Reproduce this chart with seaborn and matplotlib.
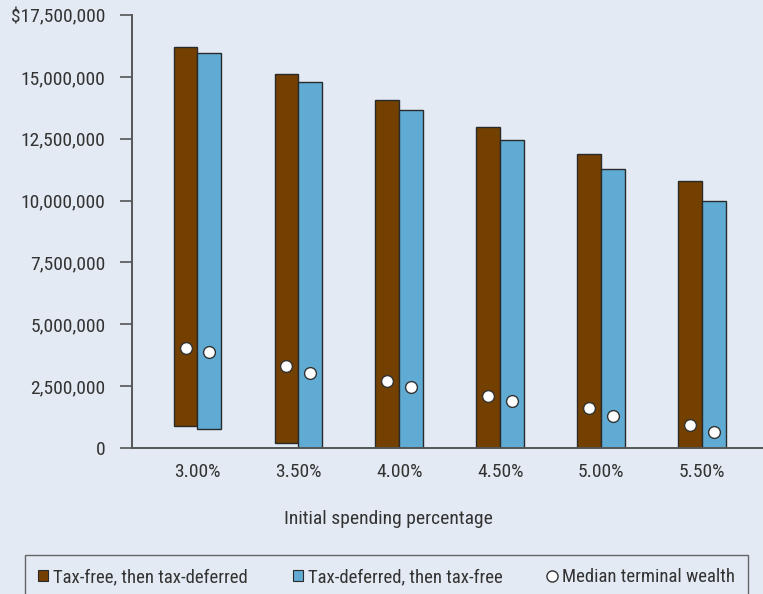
import matplotlib
matplotlib.use("Agg")
import matplotlib.pyplot as plt
from matplotlib.patches import Patch
from matplotlib.lines import Line2D
import pandas as pd
import seaborn as sns

# Initial spending rates (categories)
categories = ["3.00%", "3.50%", "4.00%", "4.50%", "5.00%", "5.50%"]
strategies = ["Tax-free, then tax-deferred", "Tax-deferred, then tax-free"]

# Terminal wealth ranges ($) for each withdrawal ordering
tf_td_high = [16_230_000, 15_120_000, 14_080_000, 12_990_000, 11_880_000, 10_790_000]
tf_td_low = [860_000, 190_000, 0, 0, 0, 0]
td_tf_high = [15_960_000, 14_800_000, 13_660_000, 12_470_000, 11_260_000, 10_000_000]
td_tf_low = [760_000, 0, 0, 0, 0, 0]

# Median terminal wealth ($)
tf_td_median = [4_020_000, 3_320_000, 2_690_000, 2_110_000, 1_610_000, 930_000]
td_tf_median = [3_890_000, 3_010_000, 2_440_000, 1_880_000, 1_300_000, 650_000]

y_ticks = [0, 2_500_000, 5_000_000, 7_500_000, 10_000_000, 12_500_000, 15_000_000, 17_500_000]
y_tick_labels = ["0", "2,500,000", "5,000,000", "7,500,000", "10,000,000",
                 "12,500,000", "15,000,000", "$17,500,000"]

BG = "#e3eaf3"
BROWN = "#744000"
BLUE = "#60abd3"
INK = "#333333"

rows = []
for s, hi, lo, med in [(strategies[0], tf_td_high, tf_td_low, tf_td_median),
                       (strategies[1], td_tf_high, td_tf_low, td_tf_median)]:
    for c, h, l, m in zip(categories, hi, lo, med):
        rows.append({"rate": c, "strategy": s, "high": h, "low": l,
                     "span": h - l, "median": m})
df = pd.DataFrame(rows)

sns.set_theme(style="white")
plt.rcParams["font.family"] = ["Roboto Condensed", "DejaVu Sans"]
plt.rcParams["text.color"] = INK

fig = plt.figure(figsize=(7.63, 5.94), dpi=100, facecolor=BG)
ax = fig.add_axes([132 / 763, 1 - 447.7 / 594, 1 - 132 / 763, (447.7 - 15.3) / 594])
ax.set_facecolor(BG)

palette = {strategies[0]: BROWN, strategies[1]: BLUE}
sns.barplot(data=df, x="rate", y="span", hue="strategy", hue_order=strategies,
            order=categories, palette=palette, width=0.47, dodge=True,
            errorbar=None, saturation=1, edgecolor="#2a2a2a", linewidth=1.0,
            legend=False, ax=ax)

# Float each bar so it spans low..high
for container, lows in zip(ax.containers, [tf_td_low, td_tf_low]):
    for patch, lo in zip(container, lows):
        patch.set_y(lo)

sns.pointplot(data=df, x="rate", y="median", hue="strategy", hue_order=strategies,
              order=categories, palette={s: "white" for s in strategies},
              dodge=0.235, linestyle="none", markers="o", errorbar=None,
              markersize=8.5, markeredgewidth=1.0, legend=False, ax=ax)
for line in ax.lines:
    line.set_markeredgecolor(INK)
    line.set_zorder(5)

ax.set_xlim(-0.648, 5.605)
ax.set_ylim(0, 17_500_000)
ax.set_yticks(y_ticks)
ax.set_yticklabels(y_tick_labels)
ax.tick_params(axis="y", which="major", direction="out", length=8.5, width=1.2,
               color="#555555", labelsize=14, labelcolor=INK, pad=10.5, left=True)
ax.tick_params(axis="x", length=0, labelsize=14, labelcolor=INK, pad=11)
ax.set_xlabel("Initial spending percentage", fontsize=14, color=INK)
ax.xaxis.set_label_coords((388 - 132) / 631, -62 / 432.4)
ax.set_ylabel("")

for side in ["top", "right"]:
    ax.spines[side].set_visible(False)
for side in ["left", "bottom"]:
    ax.spines[side].set_color("#555555")
    ax.spines[side].set_linewidth(1.4)

handles = [
    Patch(facecolor=BROWN, edgecolor="#2a2a2a", linewidth=0.8, label=strategies[0]),
    Patch(facecolor=BLUE, edgecolor="#2a2a2a", linewidth=0.8, label=strategies[1]),
    Line2D([], [], linestyle="none", marker="o", markersize=8, markerfacecolor="white",
           markeredgecolor=INK, markeredgewidth=1.0, label="Median terminal wealth"),
]
leg = fig.legend(handles=handles, loc="upper left", ncol=3,
                 bbox_to_anchor=(25 / 763, 1 - 555 / 594, (748 - 25) / 763, 0.0),
                 mode="expand", frameon=True, fancybox=False, fontsize=13.5,
                 handlelength=0.55, handleheight=0.55, handletextpad=0.25,
                 borderpad=0.7, borderaxespad=0, facecolor=BG, edgecolor="#444444")
leg.get_frame().set_linewidth(1.0)

fig.savefig("out.png", dpi=100, facecolor=BG)
